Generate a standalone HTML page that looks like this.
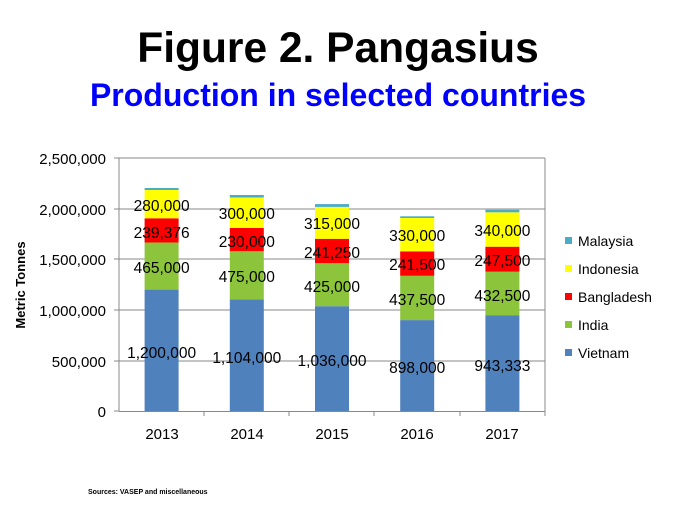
<!DOCTYPE html>
<html><head><meta charset="utf-8"><style>body{margin:0;background:#fff}svg{display:block}</style></head><body>
<svg width="675" height="512" xmlns="http://www.w3.org/2000/svg" font-family="Liberation Sans, sans-serif">
<text x="338" y="62" text-anchor="middle" font-size="42.5" font-weight="bold" fill="#000">Figure 2. Pangasius</text>
<text x="338" y="106" text-anchor="middle" font-size="32" font-weight="bold" fill="#0000ff">Production in selected countries</text>
<g stroke="#888" stroke-width="1">
<line x1="119" y1="158" x2="545" y2="158"/><line x1="119" y1="209" x2="545" y2="209"/><line x1="119" y1="259" x2="545" y2="259"/><line x1="119" y1="310" x2="545" y2="310"/><line x1="119" y1="361" x2="545" y2="361"/><line x1="119" y1="411.5" x2="545" y2="411.5"/>
<line x1="119" y1="158" x2="119" y2="411"/><line x1="545" y1="158" x2="545" y2="411"/>
<line x1="114" y1="158" x2="119" y2="158"/><line x1="114" y1="209" x2="119" y2="209"/><line x1="114" y1="259" x2="119" y2="259"/><line x1="114" y1="310" x2="119" y2="310"/><line x1="114" y1="361" x2="119" y2="361"/><line x1="114" y1="411" x2="119" y2="411"/>
<line x1="204" y1="411" x2="204" y2="416"/><line x1="289" y1="411" x2="289" y2="416"/><line x1="374" y1="411" x2="374" y2="416"/><line x1="460" y1="411" x2="460" y2="416"/><line x1="545" y1="411" x2="545" y2="416"/>
</g>
<g font-size="15" text-anchor="end" fill="#000">
<text x="106" y="164">2,500,000</text><text x="106" y="215">2,000,000</text><text x="106" y="265">1,500,000</text><text x="106" y="316">1,000,000</text><text x="106" y="367">500,000</text><text x="106" y="417">0</text>
</g>
<g font-size="15" text-anchor="middle" fill="#000">
<text x="162" y="439">2013</text><text x="247" y="439">2014</text><text x="332" y="439">2015</text><text x="417" y="439">2016</text><text x="502" y="439">2017</text>
</g>
<text transform="translate(25,285) rotate(-90)" text-anchor="middle" font-size="13" font-weight="bold">Metric Tonnes</text>
<g>
<rect x="144.6" y="289.6" width="34" height="121.4" fill="#4f81bd"/>
<rect x="144.6" y="242.5" width="34" height="47.1" fill="#8cc43c"/>
<rect x="144.6" y="218.3" width="34" height="24.2" fill="#ff0000"/>
<rect x="144.6" y="190.0" width="34" height="28.3" fill="#ffff00"/>
<rect x="144.6" y="188.0" width="34" height="2" fill="#4bacc6"/>

<rect x="229.8" y="299.3" width="34" height="111.7" fill="#4f81bd"/>
<rect x="229.8" y="251.2" width="34" height="48.1" fill="#8cc43c"/>
<rect x="229.8" y="227.9" width="34" height="23.3" fill="#ff0000"/>
<rect x="229.8" y="197.5" width="34" height="30.4" fill="#ffff00"/>
<rect x="229.8" y="195.0" width="34" height="2.5" fill="#4bacc6"/>

<rect x="315" y="306.2" width="34" height="104.8" fill="#4f81bd"/>
<rect x="315" y="263.2" width="34" height="43.0" fill="#8cc43c"/>
<rect x="315" y="238.8" width="34" height="24.4" fill="#ff0000"/>
<rect x="315" y="206.9" width="34" height="31.9" fill="#ffff00"/>
<rect x="315" y="204.1" width="34" height="2.8" fill="#4bacc6"/>

<rect x="400.2" y="320.1" width="34" height="90.9" fill="#4f81bd"/>
<rect x="400.2" y="275.8" width="34" height="44.3" fill="#8cc43c"/>
<rect x="400.2" y="251.4" width="34" height="24.4" fill="#ff0000"/>
<rect x="400.2" y="218.0" width="34" height="33.4" fill="#ffff00"/>
<rect x="400.2" y="216.3" width="34" height="1.7" fill="#4bacc6"/>

<rect x="485.4" y="315.5" width="34" height="95.5" fill="#4f81bd"/>
<rect x="485.4" y="271.7" width="34" height="43.8" fill="#8cc43c"/>
<rect x="485.4" y="246.7" width="34" height="25.0" fill="#ff0000"/>
<rect x="485.4" y="212.3" width="34" height="34.4" fill="#ffff00"/>
<rect x="485.4" y="209.8" width="34" height="2.5" fill="#4bacc6"/>
</g>
<g font-size="15.5" text-anchor="middle" fill="#000">
<text x="161.6" y="358">1,200,000</text><text x="161.6" y="273">465,000</text><text x="161.6" y="238">239,376</text><text x="161.6" y="211">280,000</text>
<text x="246.8" y="363">1,104,000</text><text x="246.8" y="282">475,000</text><text x="246.8" y="247">230,000</text><text x="246.8" y="219">300,000</text>
<text x="332" y="366">1,036,000</text><text x="332" y="292">425,000</text><text x="332" y="258">241,250</text><text x="332" y="229">315,000</text>
<text x="417.2" y="373">898,000</text><text x="417.2" y="305">437,500</text><text x="417.2" y="270">241,500</text><text x="417.2" y="241">330,000</text>
<text x="502.4" y="371">943,333</text><text x="502.4" y="301">432,500</text><text x="502.4" y="266">247,500</text><text x="502.4" y="236">340,000</text>
</g>
<g font-size="14">
<rect x="565" y="237" width="7" height="7" fill="#4bacc6"/><text x="578" y="246">Malaysia</text>
<rect x="565" y="265" width="7" height="7" fill="#ffff00"/><text x="578" y="274">Indonesia</text>
<rect x="565" y="293" width="7" height="7" fill="#ff0000"/><text x="578" y="302">Bangladesh</text>
<rect x="565" y="321" width="7" height="7" fill="#8cc43c"/><text x="578" y="330">India</text>
<rect x="565" y="349" width="7" height="7" fill="#4f81bd"/><text x="578" y="358">Vietnam</text>
</g>
<text x="88" y="494" font-size="7" font-weight="bold">Sources: VASEP and miscellaneous</text>
</svg>
</body></html>
